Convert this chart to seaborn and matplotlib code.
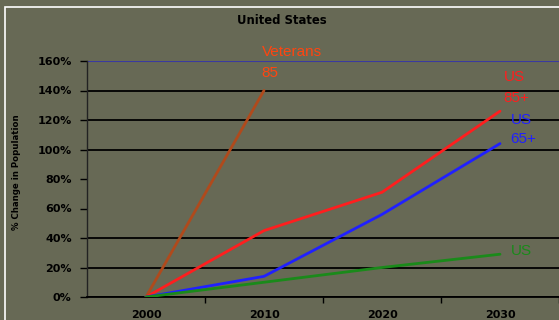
import matplotlib
matplotlib.use("Agg")
import matplotlib.pyplot as plt
import matplotlib.patches as mpatches
import seaborn as sns
import pandas as pd

years = [2000, 2010, 2020, 2030]
veterans_years = [2000, 2010]
veterans_85 = [0, 140]
us_85 = [0, 45, 71, 126]
us_65 = [0, 14, 56, 104]
us_all = [0, 10, 20, 29]
ytick_vals = [0, 20, 40, 60, 80, 100, 120, 140, 160]
grid_vals = [0, 20, 40, 100, 120, 140]
xtick_labels = ["2000", "2010", "2020", "2030"]

bg = "#676955"
sns.set_theme(style="white")
plt.rcParams["font.family"] = ["DejaVu Sans"]

fig = plt.figure(figsize=(5.59, 3.2), dpi=100, facecolor=bg)
ax = fig.add_axes([87/559, 1-297/320, 1-87/559, (297-61)/320])
ax.set_facecolor(bg)

# frame border
fig.patches.append(mpatches.Rectangle((5/559, -0.1), 1.2, 1-7/320+0.1, transform=fig.transFigure,
                                      fill=False, edgecolor="white", linewidth=1.2))

for g in grid_vals:
    ax.axhline(g, color="black", lw=1.3, zorder=1)
ax.axhline(160, color="#3a3aa0", lw=1.5, zorder=1)

series = [
    (veterans_years, veterans_85, "#b04a1c"),
    (years, us_85, "#ff1e1e"),
    (years, us_65, "#2020ff"),
    (years, us_all, "#1a8a1a"),
]
for xs, ys, c in series:
    df = pd.DataFrame({"year": xs, "pct": ys})
    sns.lineplot(data=df, x="year", y="pct", color=c, lw=2.0, ax=ax, zorder=3)

ax.set_xlim(1995, 2035)
ax.set_ylim(0, 160)
ax.set_xticks([2000, 2010, 2020, 2030])
ax.set_xticklabels(xtick_labels, fontsize=8, fontweight="bold", color="black")
ax.set_xticks([2005, 2015, 2025, 2035], minor=True)
ax.tick_params(axis="x", which="major", length=0, pad=9)
ax.tick_params(axis="x", which="minor", length=4, width=1, color="black", direction="out", bottom=True)
ax.set_yticks(ytick_vals)
ax.set_yticklabels([f"{v}%" for v in ytick_vals], fontsize=8, fontweight="bold", color="black")
ax.tick_params(axis="y", length=5, width=1, color="black", direction="out", left=True, pad=6)
ax.set_xlabel("")
ax.set_ylabel("")

for s in ["top", "right"]:
    ax.spines[s].set_visible(False)
ax.spines["left"].set_color("#222222")
ax.spines["left"].set_linewidth(1)
ax.spines["bottom"].set_color("black")
ax.spines["bottom"].set_linewidth(1.3)

fig.text(282/559, 1-21/320, "United States", ha="center", va="center",
         fontsize=8.4, fontweight="bold", color="black")
fig.text(17/559, 1-172/320, "% Change in Population", rotation=90, ha="center", va="center",
         fontsize=6.2, fontweight="bold", color="black")

lab_kw = dict(fontsize=11, family="Liberation Sans", transform=ax.transData, va="center", ha="left")
ax.text(2009.8, 166, "Veterans", color="#ff4510", **lab_kw)
ax.text(2009.8, 152, "85", color="#ff4510", **lab_kw)
ax.text(2030.3, 149, "US", color="#ff1e1e", **lab_kw)
ax.text(2030.3, 135, "85+", color="#ff1e1e", **lab_kw)
ax.text(2030.9, 120, "US", color="#2020ff", **lab_kw)
ax.text(2030.9, 107, "65+", color="#2020ff", **lab_kw)
ax.text(2030.9, 31, "US", color="#1a8a1a", **lab_kw)

fig.savefig("out.png", dpi=100, facecolor=bg)
